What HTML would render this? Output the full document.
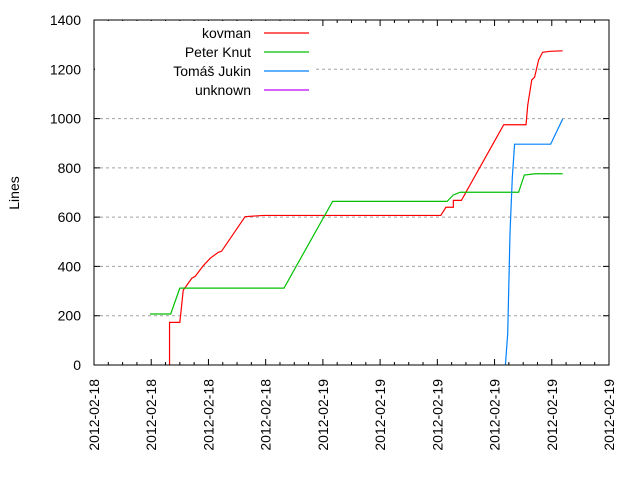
<!DOCTYPE html>
<html><head><meta charset="utf-8"><style>
body{margin:0;background:#fff}
svg{display:block;font-family:"Liberation Sans",sans-serif}
</style></head><body>
<svg id="chart" width="640" height="480" viewBox="0 0 640 480" xmlns="http://www.w3.org/2000/svg"></svg>
<script>
const xTickLabels=["2012-02-18","2012-02-18","2012-02-18","2012-02-18","2012-02-19","2012-02-19","2012-02-19","2012-02-19","2012-02-19","2012-02-19"];
const yTicks=[0,200,400,600,800,1000,1200,1400];
const seriesNames=["kovman","Peter Knut","Tomáš Jukin","unknown"];
const seriesColors=["#ff0000","#00c000","#0080ff","#c000ff"];
const kovmanT=[1.32,1.32,1.50,1.56,1.71,1.77,1.91,2.03,2.17,2.23,2.64,2.96,6.06,6.15,6.28,6.28,6.42,7.16,7.55,7.58,7.65,7.70,7.77,7.84,7.97,8.19];
const kovmanV=[0,173,173,304,352,360,403,433,457,462,602,607,607,640,640,668,668,975,975,1055,1157,1168,1238,1269,1273,1275];
const knutT=[0.98,1.34,1.50,3.32,4.17,6.17,6.28,6.40,7.42,7.52,7.71,8.19];
const knutV=[207,207,312,312,664,664,690,701,701,771,776,776];
const jukinT=[7.19,7.23,7.27,7.31,7.35,7.98,8.19];
const jukinV=[0,128,535,760,896,896,998];
const L=94,R=609,T=20,B=365,xMax=9,yMax=1400;
const sx=t=>L+(R-L)*t/xMax, sy=v=>B-(B-T)*v/yMax;
const svg=document.getElementById('chart');
const NS="http://www.w3.org/2000/svg";
function mk(tag,attrs,parent){const e=document.createElementNS(NS,tag);for(const k in attrs)e.setAttribute(k,attrs[k]);(parent||svg).appendChild(e);return e;}
// grid
yTicks.forEach((v,i)=>{
 if(v>0&&v<yMax){const g=mk('line',{x1:L,x2:R,y1:sy(v),y2:sy(v),stroke:'#a0a0a0','stroke-dasharray':'3,3'});
 
 }
 const tk=mk('path',{d:`M${L} ${sy(v)}h6M${R} ${sy(v)}h-6`,stroke:'#000'});
 
 
 const tx=mk('text',{x:L-13,y:sy(v)+5,'text-anchor':'end','font-size':'14',fill:'#000'});
 tx.textContent=v;
 
 
});
xTickLabels.forEach((lab,i)=>{
 const x=sx(i);
 const tk=mk('path',{d:`M${x} ${B}v-6M${x} ${T}v6`,stroke:'#000'});
 
 
 if(i<xTickLabels.length-1){for(let m=1;m<4;m++){const mx=sx(i+m/4);
  const mt=mk('path',{d:`M${mx} ${B}v-3M${mx} ${T}v3`,stroke:'#000'});
  
  }}
 const tx=mk('text',{x:0,y:0,'text-anchor':'end','font-size':'14',fill:'#000',transform:`translate(${x+5},${B+14}) rotate(-90)`});
 tx.textContent=lab;
 
 
});
// legend background
const lb=mk('rect',{x:L+1,y:T+1,width:218,height:78,fill:'#fff'});


// series
const sData=[[kovmanT,kovmanV],[knutT,knutV],[jukinT,jukinV]];
sData.forEach((s,k)=>{
 const pts=s[0].map((t,i)=>sx(t)+','+sy(s[1][i])).join(' ');
 const pl=mk('polyline',{points:pts,fill:'none',stroke:seriesColors[k],'stroke-width':1.2});
 
 
});
// legend
seriesNames.forEach((n,k)=>{
 const y=33+k*19;
 const tx=mk('text',{x:251,y:y+5,'text-anchor':'end','font-size':'14',fill:'#000'});
 tx.textContent=n;
 
 
 const ln=mk('line',{x1:264,x2:309,y1:y,y2:y,stroke:seriesColors[k],'stroke-width':1.2});
 
 
});
// frame
const fr=mk('rect',{x:L,y:T,width:R-L,height:B-T,fill:'none',stroke:'#000'});


const yl=mk('text',{x:0,y:0,'text-anchor':'middle','font-size':'14',fill:'#000',transform:'translate(19,193) rotate(-90)'});
yl.textContent='Lines';


</script>
</body></html>
